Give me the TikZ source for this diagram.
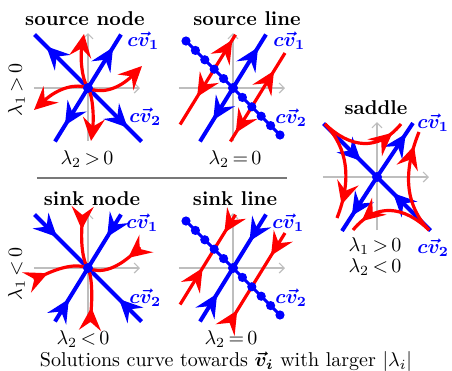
\documentclass[tikz,border=0pt]{standalone}
\usepackage{amsmath,bm}
\usetikzlibrary{arrows.meta,decorations.markings,calc}
\definecolor{bblue}{RGB}{0,0,255}
\definecolor{rred}{RGB}{255,0,0}
\definecolor{axgray}{RGB}{190,190,190}
\definecolor{sepgray}{RGB}{120,120,120}
\tikzset{
  >={Stealth[length=11.5pt,width=11pt,inset=4.2pt]},
  bl/.style={bblue, line width=2pt},
  rd/.style={rred, line width=1.6pt},
  ax/.style={axgray, line width=0.6pt, -{Straight Barb[length=2.5pt,width=5pt]}},
  arrowat/.style={postaction={decorate,decoration={markings,mark=at position #1 with {\arrow{>}}}}},
  cvlab/.style={text=bblue, inner sep=0pt, anchor=base west},
  ttl/.style={font=\bfseries, inner sep=0pt, anchor=base},
  lam/.style={inner sep=0pt, anchor=base},
}
\begin{document}
\begin{tikzpicture}[x=0.5pt,y=-0.5pt]
\useasboundingbox (0,0) rectangle (452,371);
\coordinate (sn) at (88,88);
\coordinate (sl) at (233,88);
\coordinate (kn) at (88,268);
\coordinate (kl) at (233,268);
\coordinate (sd) at (377,177);
% axes
\foreach \c in {sn,sl,kn,kl,sd}{
  \draw[ax] ($(\c)+(-54,0)$) -- ($(\c)+(52,0)$);
  \draw[ax] ($(\c)+(0,53)$) -- ($(\c)+(0,-55)$);
}
% ---------- source node ----------
\draw[bl,arrowat=0.76] (sn) -- ($(sn)+(33,-53.5)$);
\draw[bl,arrowat=0.7] (sn) -- ($(sn)+(-33,53.5)$);
\draw[bl,arrowat=0.78] (sn) -- ($(sn)+(-53.5,-53.5)$);
\draw[bl,arrowat=0.74] (sn) -- ($(sn)+(53.5,53.5)$);
\draw[rd,->] (sn) .. controls ($(sn)+(-6,-8)$) and ($(sn)+(-8,-30)$) .. ($(sn)+(-4,-54)$);
\draw[rd,->] (sn) .. controls ($(sn)+(12,6)$) and ($(sn)+(30,2)$) .. ($(sn)+(54,-22)$);
\draw[rd,->] (sn) .. controls ($(sn)+(-12,-5)$) and ($(sn)+(-30,0)$) .. ($(sn)+(-54,22)$);
\draw[rd,->] (sn) .. controls ($(sn)+(5,8)$) and ($(sn)+(6,30)$) .. ($(sn)+(3,53)$);
\fill[bblue] (sn) circle[radius=2.5pt];
% ---------- source line ----------
\coordinate (la) at ($(sl)+(-18.8,-18.8)$);
\coordinate (lb) at ($(sl)+(18.8,18.8)$);
\draw[bblue,line width=1.5pt] ($(sl)+(-47,-47)$) -- ($(sl)+(47,47)$);
\draw[bl,arrowat=0.76] (sl) -- ($(sl)+(33,-53.5)$);
\draw[bl,arrowat=0.6] (sl) -- ($(sl)+(-33,53.5)$);
\draw[rd,arrowat=0.85] (la) -- ($(la)+(21.3,-34.5)$);
\draw[rd,arrowat=0.5] (la) -- ($(la)+(-34.1,55.3)$);
\draw[rd,arrowat=0.67] (lb) -- ($(lb)+(33.2,-53.8)$);
\draw[rd,arrowat=0.75] (lb) -- ($(lb)+(-21.4,34.7)$);
\foreach \k in {-5,...,5}{
  \fill[bblue] ($(sl)+({9.4*\k},{9.4*\k})$) circle[radius=2.3pt];
}
\fill[bblue] (sl) circle[radius=2.5pt];
% ---------- sink node ----------
\draw[bl,arrowat=0.42] ($(kn)+(33,-53.5)$) -- (kn);
\draw[bl,arrowat=0.42] ($(kn)+(-33,53.5)$) -- (kn);
\draw[bl,arrowat=0.42] ($(kn)+(-53.5,-53.5)$) -- (kn);
\draw[bl,arrowat=0.42] ($(kn)+(53.5,53.5)$) -- (kn);
\draw[rd,arrowat=0.27] ($(kn)+(-5,-53)$) .. controls ($(kn)+(-8,-30)$) and ($(kn)+(-6,-8)$) .. (kn);
\draw[rd,arrowat=0.27] ($(kn)+(52,-21)$) .. controls ($(kn)+(30,2)$) and ($(kn)+(12,6)$) .. (kn);
\draw[rd,arrowat=0.27] ($(kn)+(-54,12)$) .. controls ($(kn)+(-30,-1)$) and ($(kn)+(-12,-5)$) .. (kn);
\draw[rd,arrowat=0.27] ($(kn)+(2,54)$) .. controls ($(kn)+(5,30)$) and ($(kn)+(4,8)$) .. (kn);
\fill[bblue] (kn) circle[radius=2.5pt];
% ---------- sink line ----------
\coordinate (ka) at ($(kl)+(-18.8,-18.8)$);
\coordinate (kb) at ($(kl)+(18.8,18.8)$);
\draw[bblue,line width=1.5pt] ($(kl)+(-47,-47)$) -- ($(kl)+(47,47)$);
\draw[bl,arrowat=0.5] ($(kl)+(33,-53.5)$) -- (kl);
\draw[bl,arrowat=0.52] ($(kl)+(-33,53.5)$) -- (kl);
\draw[rd,arrowat=0.52] ($(ka)+(21.3,-34.5)$) -- (ka);
\draw[rd,arrowat=0.66] ($(ka)+(-34.1,55.3)$) -- (ka);
\draw[rd,arrowat=0.42] ($(kb)+(33.2,-53.8)$) -- (kb);
\draw[rd,arrowat=0.32] ($(kb)+(-21.4,34.7)$) -- (kb);
\foreach \k in {-5,...,5}{
  \fill[bblue] ($(kl)+({9.4*\k},{9.4*\k})$) circle[radius=2.3pt];
}
\fill[bblue] (kl) circle[radius=2.5pt];
% ---------- saddle ----------
\draw[bl,arrowat=0.7] ($(sd)+(-53.5,-53.5)$) -- (sd);
\draw[bl,arrowat=0.7] ($(sd)+(53.5,53.5)$) -- (sd);
\draw[bl,arrowat=0.8] (sd) -- ($(sd)+(36,-54)$);
\draw[bl,arrowat=0.72] (sd) -- ($(sd)+(-35,54)$);
\draw[rd,arrowat=0.86] (325,124) .. controls (350,148) and (378,152) .. (401,124);
\draw[rd,arrowat=0.86] (429,230) .. controls (404,206) and (376,202) .. (353,230);
\draw[rd,arrowat=0.86] (325,124) .. controls (348,148) and (352,180) .. (337,218);
\draw[rd,arrowat=0.86] (429,230) .. controls (406,206) and (402,174) .. (419,132);
\fill[bblue] (sd) circle[radius=2.5pt];
% separator
\draw[sepgray,line width=0.8pt] (37,178) -- (287,178);
% titles
\node[ttl] (t1) at (85,25) {source node};
\node[ttl] (t2) at (247,25) {source line};
\node[ttl] (t3) at (376,114) {saddle};
\node[ttl] (t4) at (92,205) {sink node};
\node[ttl] (t5) at (235,205) {sink line};
% eigenvector labels
\node[cvlab] (c1) at (127,46) {$\bm{c\vec{v}_1}$};
\node[cvlab] (c2) at (129,122) {$\bm{c\vec{v}_2}$};
\node[cvlab] (c3) at (273,46) {$\bm{c\vec{v}_1}$};
\node[cvlab] (c4) at (275,123) {$\bm{c\vec{v}_2}$};
\node[cvlab] (c5) at (417,128) {$\bm{c\vec{v}_1}$};
\node[cvlab] (c6) at (417,253) {$\bm{c\vec{v}_2}$};
\node[cvlab] (c7) at (126,228) {$\bm{c\vec{v}_1}$};
\node[cvlab] (c8) at (129,303) {$\bm{c\vec{v}_2}$};
\node[cvlab] (c9) at (272,228) {$\bm{c\vec{v}_1}$};
\node[cvlab] (c10) at (275,303) {$\bm{c\vec{v}_2}$};
% eigenvalue labels
\node[inner sep=0pt,rotate=90] (r1) at (16.5,90) {$\lambda_1\,{>}\,0$};
\node[inner sep=0pt,rotate=90] (r2) at (16.5,274) {$\lambda_1\,{<}\,0$};
\node[lam] (l1) at (87,164) {$\lambda_2\,{>}\,0$};
\node[lam] (l2) at (235,164) {$\lambda_2\,{=}\,0$};
\node[lam] (l3) at (375,251) {$\lambda_1\,{>}\,0$};
\node[lam] (l4) at (375,272) {$\lambda_2\,{<}\,0$};
\node[lam] (l5) at (83,344) {$\lambda_2\,{<}\,0$};
\node[lam] (l6) at (231,344) {$\lambda_2\,{=}\,0$};
\node[lam] (bt) at (226,366) {Solutions curve towards $\bm{\vec{v}_i}$ with larger $|\lambda_i|$};
\end{tikzpicture}
\end{document}
